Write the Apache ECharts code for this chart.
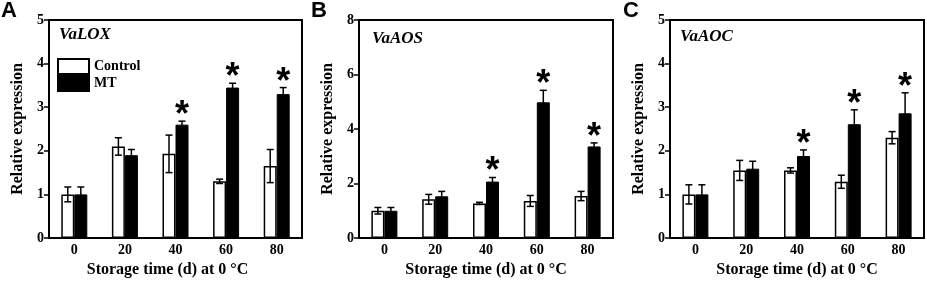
<!DOCTYPE html>
<html>
<head>
<meta charset="utf-8">
<script src="https://cdn.jsdelivr.net/npm/echarts@6/dist/echarts.min.js"></script>
<style>
  html, body { margin: 0; padding: 0; background: #fff; }
  #main { width: 927px; height: 284px; }
</style>
</head>
<body>
<div id="main"></div>
<script>
var days = ['0', '20', '40', '60', '80'];

// VaLOX
var loxCtrl = [1.0, 2.1, 1.93, 1.3, 1.65];
var loxCtrlErr = [0.17, 0.2, 0.43, 0.05, 0.38];
var loxMT = [1.0, 1.9, 2.6, 3.45, 3.3];
var loxMTErr = [0.17, 0.13, 0.08, 0.1, 0.15];
var loxSig = [0, 0, 1, 1, 1];

// VaAOS
var aosCtrl = [1.0, 1.42, 1.27, 1.36, 1.54];
var aosCtrlErr = [0.12, 0.18, 0.04, 0.2, 0.17];
var aosMT = [1.0, 1.53, 2.07, 4.98, 3.36];
var aosMTErr = [0.12, 0.18, 0.15, 0.44, 0.13];
var aosSig = [0, 0, 1, 1, 1];

// VaAOC
var aocCtrl = [1.0, 1.55, 1.55, 1.29, 2.3];
var aocCtrlErr = [0.22, 0.23, 0.06, 0.15, 0.14];
var aocMT = [1.0, 1.59, 1.88, 2.61, 2.86];
var aocMTErr = [0.22, 0.17, 0.14, 0.33, 0.47];
var aocSig = [0, 0, 1, 1, 1];

var serif = "'Liberation Serif', 'Times New Roman', serif";
var myChart = echarts.init(document.getElementById('main'), null, {renderer: 'canvas'});

// 误差线
function errRender(offset) {
  return function (params, api) {
    var x = api.coord([api.value(0), 0])[0] + offset;
    var hi = api.coord([api.value(0), api.value(1) + api.value(2)])[1];
    var lo = api.coord([api.value(0), api.value(1) - api.value(2)])[1];
    var cap = 3.5;
    var st = {stroke: '#000', lineWidth: 1.5};
    return {
      type: 'group',
      children: [
        {type: 'line', shape: {x1: x, y1: hi, x2: x, y2: lo}, style: st},
        {type: 'line', shape: {x1: x - cap, y1: hi, x2: x + cap, y2: hi}, style: st},
        {type: 'line', shape: {x1: x - cap, y1: lo, x2: x + cap, y2: lo}, style: st}
      ]
    };
  };
}

// 显著性星号
function starRender(params, api) {
  var x = api.coord([api.value(0), 0])[0] + 6.5;
  var y = api.coord([api.value(0), api.value(1)])[1];
  return {
    type: 'text',
    x: x,
    y: y - 23,
    style: {
      text: '*',
      fill: '#000',
      font: 'bold 36px "Liberation Sans", Arial, sans-serif',
      textAlign: 'center',
      align: 'center',
      textVerticalAlign: 'top',
      verticalAlign: 'top'
    }
  };
}

function errData(vals, errs) {
  return vals.map(function (v, i) { return [i, v, errs[i]]; });
}
function starData(vals, errs, sig) {
  var out = [];
  for (var i = 0; i < vals.length; i++) {
    if (sig[i]) out.push([i, vals[i] + errs[i]]);
  }
  return out;
}

var grids = [
  {left: 49, top: 20, width: 253, height: 218},
  {left: 359, top: 20, width: 254, height: 218},
  {left: 670, top: 20, width: 254, height: 218}
];
var yMax = [5, 8, 5];
var yInt = [1, 2, 1];
var nameShift = [[0, 16, 0, 0], [0, 0, 0, 0], [0, 0, 0, 0]];

var panels = [
  [loxCtrl, loxCtrlErr, loxMT, loxMTErr, loxSig],
  [aosCtrl, aosCtrlErr, aosMT, aosMTErr, aosSig],
  [aocCtrl, aocCtrlErr, aocMT, aocMTErr, aocSig]
];

var xAxes = [], yAxes = [], series = [];
for (var k = 0; k < 3; k++) {
  grids[k].show = true;
  grids[k].borderColor = '#000';
  grids[k].borderWidth = 2;
  xAxes.push({
    gridIndex: k,
    type: 'category',
    data: days,
    name: 'Storage time (d) at 0 °C',
    nameLocation: 'middle',
    nameGap: 21,
    nameTextStyle: {fontFamily: serif, fontWeight: 'bold', fontSize: 16, color: '#000', padding: nameShift[k]},
    axisLine: {lineStyle: {color: '#000', width: 2}},
    axisTick: {alignWithLabel: true, length: 5, lineStyle: {color: '#000', width: 1.5}},
    axisLabel: {fontFamily: serif, fontWeight: 'bold', fontSize: 14, color: '#000', margin: 5}
  });
  yAxes.push({
    gridIndex: k,
    type: 'value',
    min: 0,
    max: yMax[k],
    interval: yInt[k],
    name: 'Relative expression',
    nameLocation: 'middle',
    nameGap: 23,
    nameTextStyle: {fontFamily: serif, fontWeight: 'bold', fontSize: 16, color: '#000'},
    splitLine: {show: false},
    axisLine: {show: true, lineStyle: {color: '#000', width: 2}},
    axisTick: {show: true, length: 5, lineStyle: {color: '#000', width: 1.5}},
    axisLabel: {fontFamily: serif, fontWeight: 'bold', fontSize: 14, color: '#000', margin: 5}
  });
  var p = panels[k];
  series.push({
    name: 'Control', type: 'bar', xAxisIndex: k, yAxisIndex: k,
    data: p[0], barWidth: 13, barGap: 0,
    itemStyle: {color: '#fff', borderColor: '#000', borderWidth: 1.5}
  });
  series.push({
    name: 'MT', type: 'bar', xAxisIndex: k, yAxisIndex: k,
    data: p[2], barWidth: 13, barGap: 0,
    itemStyle: {color: '#000', borderColor: '#000', borderWidth: 1}
  });
  series.push({
    type: 'custom', xAxisIndex: k, yAxisIndex: k, z: 5,
    renderItem: errRender(-6.5), data: errData(p[0], p[1])
  });
  series.push({
    type: 'custom', xAxisIndex: k, yAxisIndex: k, z: 5,
    renderItem: errRender(6.5), data: errData(p[2], p[3])
  });
  series.push({
    type: 'custom', xAxisIndex: k, yAxisIndex: k, z: 6,
    renderItem: starRender, data: starData(p[2], p[3], p[4])
  });
}

var geneStyle = {fontFamily: serif, fontWeight: 'bold', fontStyle: 'italic', fontSize: 17, color: '#000'};
var letterStyle = {fontFamily: "'Liberation Sans', Arial, sans-serif", fontWeight: 'bold', fontSize: 22, color: '#000'};

option = {
  backgroundColor: '#fff',
  animation: false,
  title: [
    {text: 'A', left: 1, top: 0, padding: 0, textStyle: letterStyle},
    {text: 'B', left: 311, top: 0, padding: 0, textStyle: letterStyle},
    {text: 'C', left: 623, top: 0, padding: 0, textStyle: letterStyle},
    {text: 'VaLOX', left: 59, top: 26, padding: 0, textStyle: geneStyle},
    {text: 'VaAOS', left: 372, top: 30, padding: 0, textStyle: geneStyle},
    {text: 'VaAOC', left: 680, top: 28, padding: 0, textStyle: geneStyle}
  ],
  legend: {
    data: ['Control', 'MT'],
    orient: 'vertical',
    left: 57,
    top: 58,
    padding: 0,
    itemWidth: 31,
    itemHeight: 15,
    itemGap: 0,
    icon: 'rect',
    selectedMode: false,
    textStyle: {fontFamily: serif, fontWeight: 'bold', fontSize: 14, color: '#000'}
  },
  grid: grids,
  xAxis: xAxes,
  yAxis: yAxes,
  series: series
};

myChart.setOption(option);
</script>
</body>
</html>
